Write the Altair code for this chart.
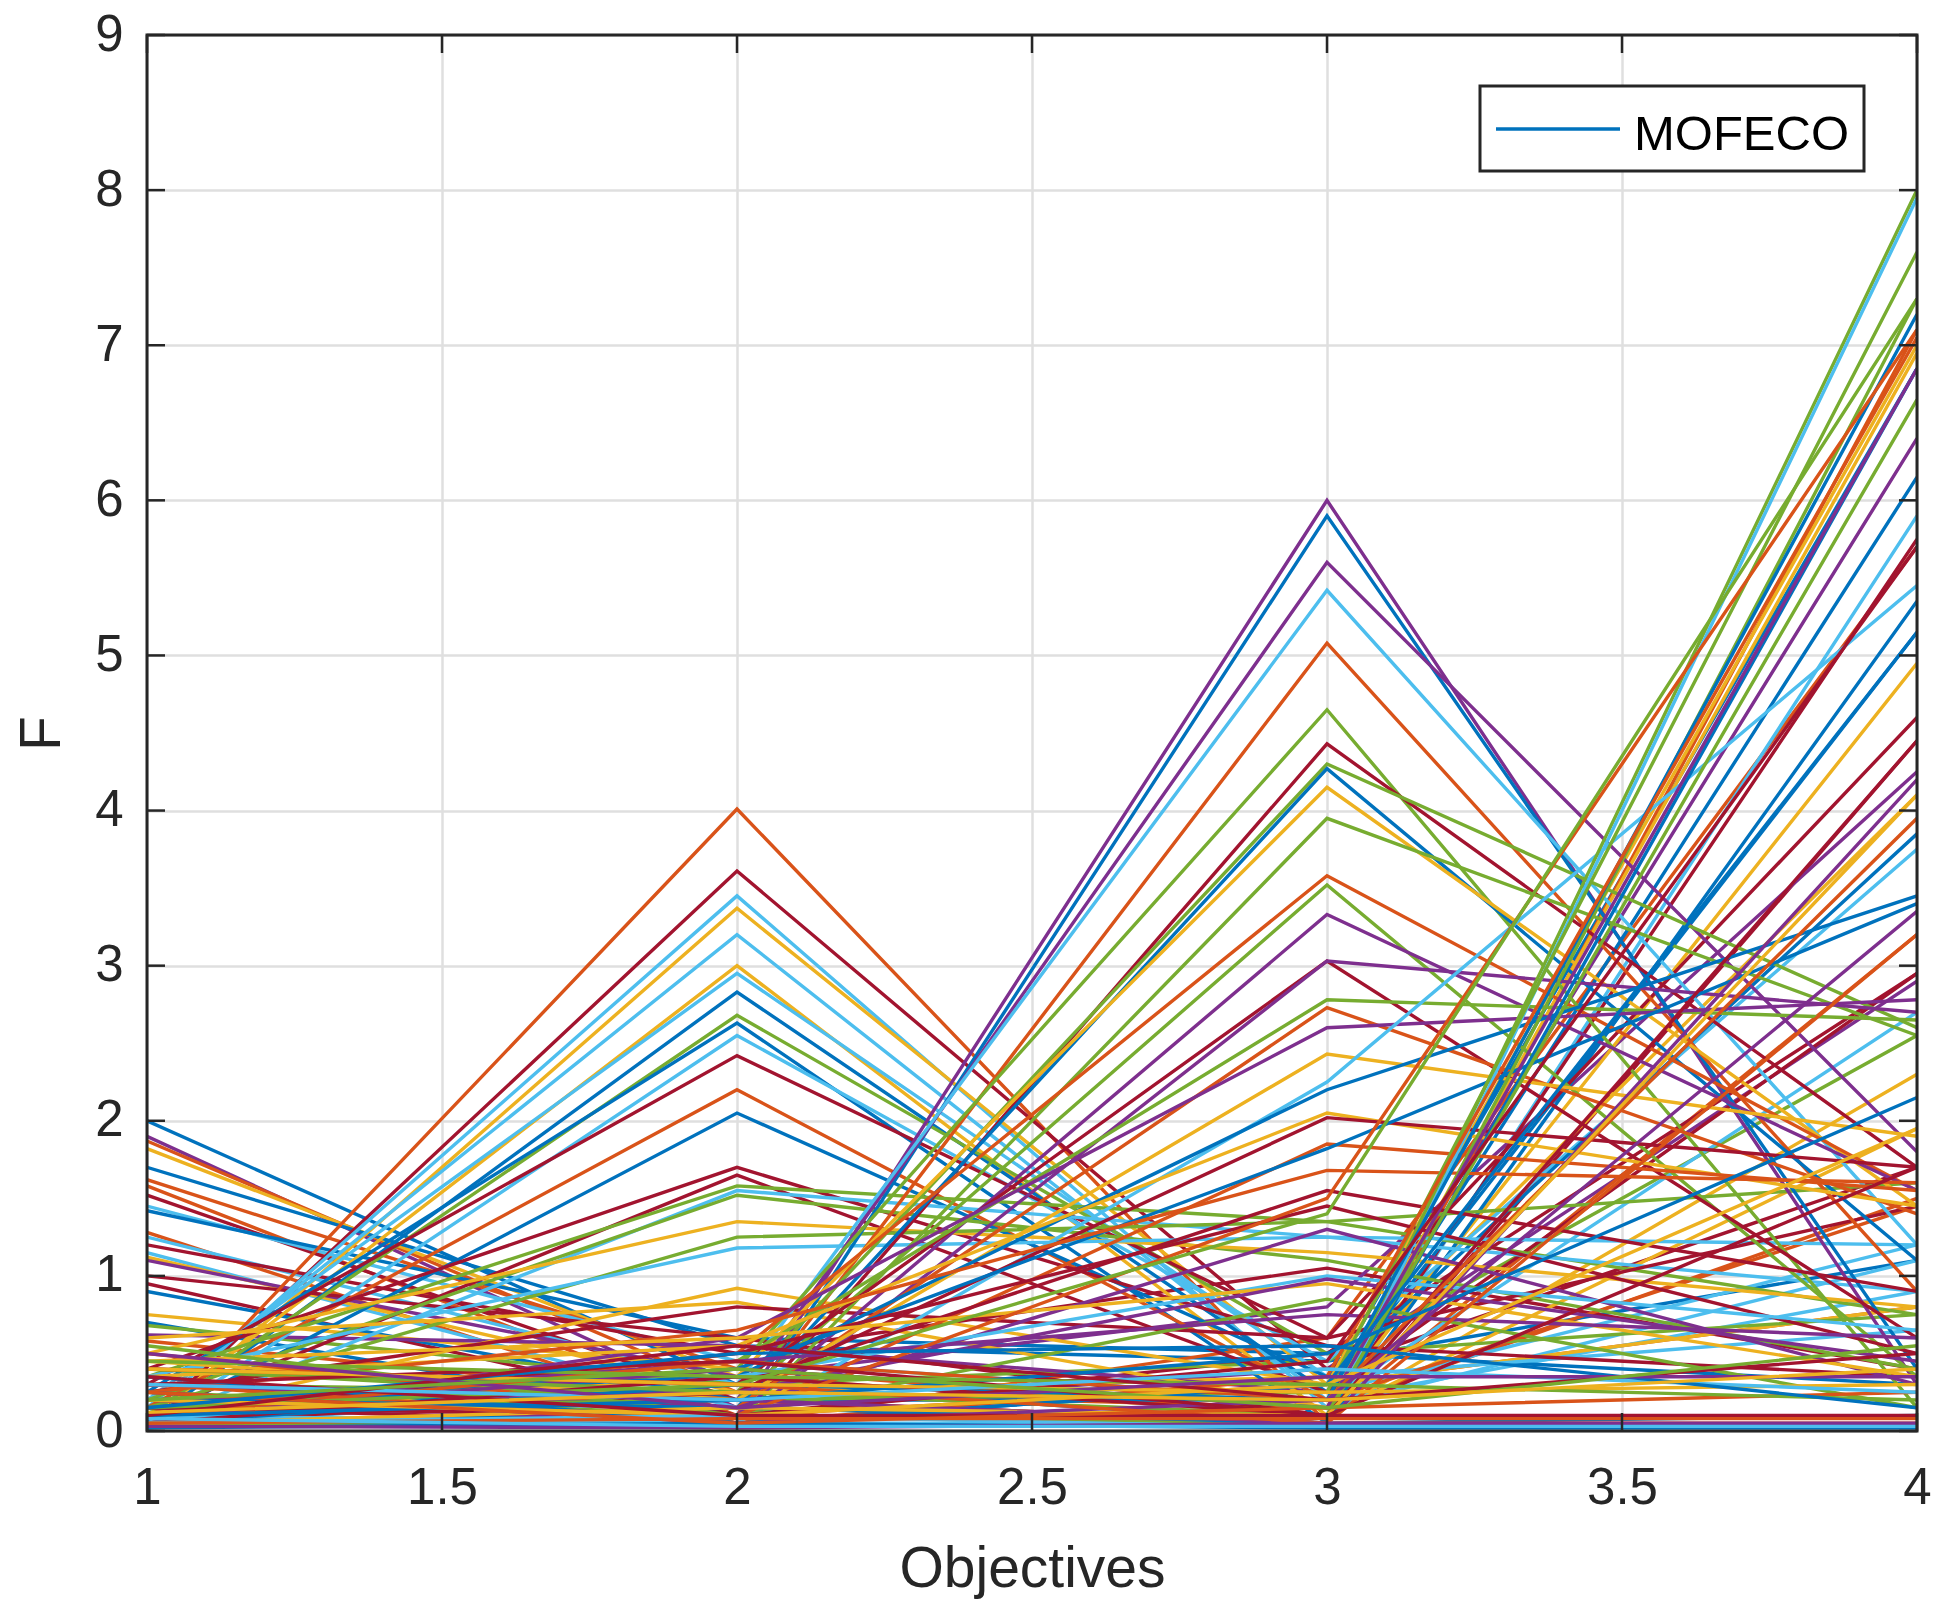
import altair as alt
import pandas as pd

# MATLAB default colour order
palette = ["#0072BD", "#D95319", "#EDB120", "#7E2F8E", "#77AC30", "#4DBEEE", "#A2142F"]
B, O, Y, P, G, L, R = range(7)

objectives = [1, 2, 3, 4]
x_ticks = [1, 1.5, 2, 2.5, 3, 3.5, 4]
y_ticks = [0, 1, 2, 3, 4, 5, 6, 7, 8, 9]

# one entry per solution (colour index, F1..F4)
line_color = [
    # F1-dominant
    B, P, O, Y, B, O, O, R, L, B, O, L, R, L, Y, P, R, R, B, Y, B, G, P, O,
    # F2-dominant
    O, R, L, Y, L, Y, L, B, G, B, L, R, O, B, R, R, G, L, G, Y, G, L, Y, Y, R,
    # F3-dominant
    P, B, P, L, O, G, R, G, B, Y, G, O, G, P, R, P, G, O, P, Y, L, B, Y, R, O, B, O, R, R, P, L, Y, P, G, P,
    # F4-dominant
    G, L, G, G, B, O, B, P, G, R, B, R, P, O, O, G, Y, P, O, B, Y, R, L,
    # low everywhere
    B, P, R, O, Y, G, L, B, R, P, G, O, L, Y,
]
f1 = [
    2.00, 1.90, 1.87, 1.82, 1.70, 1.62, 1.58, 1.52, 1.45, 1.42, 1.28, 1.25, 1.20, 1.15, 1.12, 1.10, 1.00, 0.95, 0.90, 0.75, 0.70, 0.68, 0.62, 0.58,
    0.02, 0.05, 0.10, 0.03, 0.15, 0.08, 0.20, 0.05, 0.10, 0.25, 0.02, 0.30, 0.15, 0.05, 0.40, 0.10, 0.35, 0.05, 0.20, 0.50, 0.15, 0.35, 0.10, 0.60, 0.25,
    0.03, 0.05, 0.10, 0.02, 0.20, 0.05, 0.15, 0.30, 0.02, 0.10, 0.25, 0.05, 0.40, 0.15, 0.05, 0.20, 0.10, 0.30, 0.05, 0.45, 0.10, 0.20, 0.35, 0.05, 0.50, 0.15, 0.25, 0.40, 0.10, 0.30, 0.05, 0.45, 0.20, 0.55, 0.15,
    0.05, 0.10, 0.15, 0.25, 0.05, 0.30, 0.20, 0.10, 0.40, 0.15, 0.35, 0.05, 0.30, 0.10, 0.20, 0.15, 0.05, 0.25, 0.40, 0.10, 0.20, 0.30, 0.05,
    0.02, 0.03, 0.35, 0.25, 0.40, 0.45, 0.30, 0.15, 0.10, 0.50, 0.20, 0.05, 0.08, 0.12,
]
f2 = [
    0.30, 0.15, 0.25, 0.35, 0.55, 0.40, 0.10, 0.20, 0.45, 0.60, 0.05, 0.30, 0.50, 0.15, 0.25, 0.35, 0.60, 0.10, 0.20, 0.40, 0.05, 0.30, 0.55, 0.20,
    4.01, 3.61, 3.45, 3.37, 3.20, 3.00, 2.95, 2.83, 2.68, 2.63, 2.55, 2.42, 2.20, 2.05, 1.70, 1.65, 1.58, 1.55, 1.52, 1.35, 1.25, 1.18, 0.92, 0.83, 0.80,
    0.10, 0.05, 0.20, 0.30, 0.10, 0.40, 0.05, 0.25, 0.15, 0.35, 0.05, 0.50, 0.20, 0.10, 0.30, 0.05, 0.45, 0.15, 0.60, 0.20, 0.05, 0.35, 0.55, 0.25, 0.10, 0.40, 0.65, 0.30, 0.50, 0.15, 0.35, 0.60, 0.25, 0.10, 0.45,
    0.02, 0.05, 0.20, 0.10, 0.30, 0.05, 0.15, 0.40, 0.25, 0.10, 0.05, 0.35, 0.20, 0.45, 0.10, 0.30, 0.15, 0.05, 0.30, 0.20, 0.10, 0.45, 0.10,
    0.05, 0.02, 0.10, 0.05, 0.30, 0.35, 0.20, 0.50, 0.55, 0.15, 0.40, 0.08, 0.03, 0.25,
]
f3 = [
    0.05, 0.40, 0.15, 0.10, 0.45, 0.10, 0.30, 0.05, 0.20, 0.50, 0.60, 0.25, 1.05, 0.05, 0.35, 0.80, 0.10, 0.50, 0.20, 0.15, 0.30, 0.45, 0.25, 0.05,
    0.05, 0.40, 0.15, 0.30, 0.20, 0.10, 0.35, 0.25, 0.50, 0.05, 0.45, 0.60, 0.20, 0.35, 0.55, 0.25, 1.35, 1.25, 1.10, 1.15, 1.35, 1.25, 0.30, 0.15, 0.60,
    6.00, 5.90, 5.60, 5.42, 5.08, 4.65, 4.43, 4.30, 4.27, 4.15, 3.95, 3.58, 3.52, 3.33, 3.03, 3.03, 2.78, 2.73, 2.60, 2.43, 2.25, 2.20, 2.05, 2.02, 1.85, 1.82, 1.68, 1.55, 1.45, 1.30, 1.00, 0.95, 0.98, 0.85, 0.75,
    0.10, 0.05, 0.25, 0.05, 0.20, 0.35, 0.05, 0.15, 0.10, 0.45, 0.30, 0.10, 0.05, 0.20, 1.50, 1.40, 0.10, 0.20, 0.05, 0.50, 0.30, 0.10, 0.02,
    0.02, 0.05, 0.10, 0.15, 0.25, 0.30, 0.40, 0.55, 0.20, 0.35, 0.15, 0.08, 0.03, 0.20,
]
f4 = [
    0.10, 2.90, 1.50, 2.30, 1.10, 3.20, 0.80, 4.45, 0.90, 0.30, 5.70, 1.20, 0.40, 5.90, 4.10, 4.25, 5.75, 2.95, 6.15, 4.95, 6.85, 2.55, 6.40, 7.10,
    0.05, 1.70, 1.10, 0.80, 2.70, 1.95, 0.65, 5.15, 0.75, 5.35, 3.75, 4.60, 1.45, 3.85, 0.35, 2.95, 0.75, 0.90, 0.40, 0.80, 1.60, 1.20, 7.00, 6.95, 1.45,
    0.30, 0.40, 1.80, 1.20, 0.90, 0.15, 1.70, 2.60, 1.10, 1.45, 2.55, 1.55, 0.35, 1.55, 0.60, 2.70, 2.65, 1.40, 2.78, 1.90, 5.45, 3.45, 1.45, 1.70, 1.55, 3.40, 1.60, 0.90, 0.50, 0.30, 0.65, 0.35, 0.45, 0.15, 0.60,
    8.00, 7.95, 7.60, 7.30, 7.20, 7.05, 6.85, 6.85, 6.65, 5.70, 5.15, 4.45, 4.20, 3.95, 7.10, 7.30, 4.10, 3.35, 3.20, 2.15, 1.95, 1.70, 0.02,
    0.02, 0.05, 0.10, 0.25, 0.30, 0.20, 0.25, 0.15, 0.50, 0.35, 0.55, 0.08, 0.03, 0.40,
]

rows = []
for i, (c, a, b, d, e) in enumerate(zip(line_color, f1, f2, f3, f4)):
    for xo, v in zip(objectives, (a, b, d, e)):
        rows.append({"id": i, "obj": xo, "F": v, "col": palette[c]})
df = pd.DataFrame(rows)

W, H = 1770, 1396
FONT = "Liberation Sans"
INK = "#262626"
TICK = 18

xs = alt.Scale(domain=[1, 4], nice=False, zero=False)
ys = alt.Scale(domain=[0, 9], nice=False, zero=True)

lines = alt.Chart(df).mark_line(strokeWidth=3.4, clip=True).encode(
    x=alt.X("obj:Q", scale=xs, axis=alt.Axis(values=x_ticks, format=".1~f", title="Objectives",
                                             labelPadding=32, titlePadding=28, grid=True,
                                             labelFlush=False)),
    y=alt.Y("F:Q", scale=ys, axis=alt.Axis(values=y_ticks, format="d", title="F", labelPadding=24,
                                           titlePadding=23, grid=True, labelFlush=False)),
    detail="id:N",
    color=alt.Color("col:N", scale=None, legend=None),
)

xt = pd.DataFrame({"obj": x_ticks})
yt = pd.DataFrame({"F": y_ticks})
tick_bottom = alt.Chart(xt).mark_rule(color=INK, strokeWidth=2.5).encode(
    x=alt.X("obj:Q", scale=xs), y=alt.value(H), y2=alt.value(H - TICK))
tick_top = alt.Chart(xt).mark_rule(color=INK, strokeWidth=2.5).encode(
    x=alt.X("obj:Q", scale=xs), y=alt.value(0), y2=alt.value(TICK))
tick_left = alt.Chart(yt).mark_rule(color=INK, strokeWidth=2.5).encode(
    y=alt.Y("F:Q", scale=ys), x=alt.value(0), x2=alt.value(TICK))
tick_right = alt.Chart(yt).mark_rule(color=INK, strokeWidth=2.5).encode(
    y=alt.Y("F:Q", scale=ys), x=alt.value(W), x2=alt.value(W - TICK))

one = pd.DataFrame({"k": [0]})
frame = alt.Chart(one).mark_rect(fillOpacity=0, stroke=INK, strokeWidth=3).encode(
    x=alt.value(0), x2=alt.value(W), y=alt.value(0), y2=alt.value(H))

leg_box = alt.Chart(one).mark_rect(fill="white", stroke=INK, strokeWidth=3).encode(
    x=alt.value(1333), x2=alt.value(1717), y=alt.value(51), y2=alt.value(136))
leg_line = alt.Chart(one).mark_rule(color=palette[0], strokeWidth=3.4).encode(
    x=alt.value(1349), x2=alt.value(1473), y=alt.value(94))
leg_text = alt.Chart(one).mark_text(text="MOFECO", font=FONT, fontSize=49, color="black",
                                    align="left", baseline="alphabetic").encode(
    x=alt.value(1487), y=alt.value(115))

chart = alt.layer(
    lines, frame, tick_bottom, tick_top, tick_left, tick_right, leg_box, leg_line, leg_text
).properties(
    width=W, height=H,
    autosize=alt.AutoSizeParams(type="none"),
    padding={"left": 139, "top": 27, "right": 27, "bottom": 178},
).configure_view(stroke=None).configure_axis(
    domain=False, ticks=False,
    gridColor="#DFDFDF", gridWidth=2.5,
    labelFont=FONT, labelFontSize=51, labelColor=INK,
    titleFont=FONT, titleFontSize=57, titleFontWeight="normal", titleColor=INK,
)

chart.save("out.html", embed_options={"renderer": "svg", "actions": False})
